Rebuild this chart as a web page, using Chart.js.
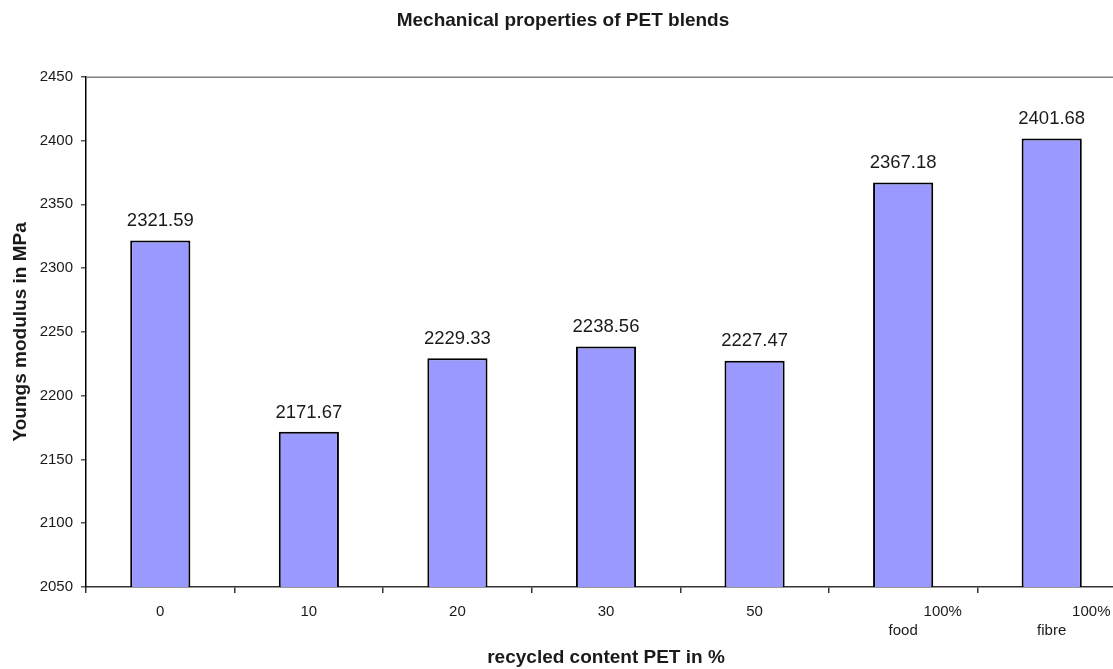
<!DOCTYPE html>
<html>
<head>
<meta charset="utf-8">
<script src="https://cdn.jsdelivr.net/npm/chart.js@4/dist/chart.umd.min.js"></script>
<style>
  html, body { margin: 0; padding: 0; background: #fff; overflow: hidden; }
  #wrap { width: 1126px; height: 669px; position: relative; }
</style>
</head>
<body>
<div id="wrap"><canvas id="c"></canvas></div>
<script>
// Young's modulus of PET blends by recycled content
const categories = ['0', '10', '20', '30', '50', ['                   100%', 'food'], ['                   100%', 'fibre']];
const modulus = [2321.59, 2171.67, 2229.33, 2238.56, 2227.47, 2367.18, 2401.68];
const yMin = 2050, yMax = 2450, yStep = 50;

const FONT = '"Liberation Sans", Arial, sans-serif';
const INK = '#1a1a1a';

// value labels above each bar and a grey frame line along the top of the plot
const extras = {
  id: 'extras',
  afterDatasetsDraw(chart) {
    const ctx = chart.ctx;
    const area = chart.chartArea;
    ctx.save();
    ctx.strokeStyle = '#808080';
    ctx.lineWidth = 1.5;
    ctx.beginPath();
    ctx.moveTo(area.left, area.top + 0.5);
    ctx.lineTo(area.right, area.top + 0.5);
    ctx.stroke();

    ctx.fillStyle = INK;
    ctx.font = '18.5px ' + FONT;
    ctx.textAlign = 'center';
    ctx.textBaseline = 'bottom';
    const meta = chart.getDatasetMeta(0);
    meta.data.forEach((bar, i) => {
      ctx.fillText(modulus[i].toFixed(2), bar.x, bar.y - 10);
    });
    ctx.restore();
  }
};

new Chart(document.getElementById('c'), {
  type: 'bar',
  data: {
    labels: categories,
    datasets: [{
      data: modulus,
      backgroundColor: '#9999FF',
      borderColor: '#000000',
      borderWidth: 2,
      barPercentage: 0.405,
      categoryPercentage: 1.0
    }]
  },
  options: {
    responsive: true,
    maintainAspectRatio: false,
    animation: false,
    layout: { padding: { left: 0, right: 0, top: 0, bottom: 0 } },
    plugins: {
      legend: { display: false },
      tooltip: { enabled: false },
      title: {
        display: true,
        text: 'Mechanical properties of PET blends',
        color: INK,
        font: { family: FONT, size: 19, weight: 'bold' },
        padding: { top: 9, bottom: 45 }
      }
    },
    scales: {
      x: {
        offset: true,
        grid: {
          offset: true,
          drawOnChartArea: false,
          drawTicks: true,
          tickLength: 6,
          color: '#333333',
          lineWidth: 1.5
        },
        border: { display: true, color: '#333333', width: 1.5 },
        ticks: {
          color: INK,
          font: { family: FONT, size: 15, lineHeight: 1.27 },
          padding: 9,
          maxRotation: 0,
          autoSkip: false
        },
        title: {
          display: true,
          text: 'recycled content PET in %',
          color: INK,
          font: { family: FONT, size: 19, weight: 'bold' },
          padding: { top: 0, bottom: 0 }
        },
        afterFit(scale) { scale.height = 82; }
      },
      y: {
        min: yMin,
        max: yMax,
        grid: {
          drawOnChartArea: false,
          drawTicks: true,
          tickLength: 5,
          color: '#555555',
          lineWidth: 1.5
        },
        border: { display: true, color: '#000000', width: 1.5 },
        ticks: {
          stepSize: yStep,
          color: INK,
          font: { family: FONT, size: 15 },
          padding: 8,
          callback: (v) => String(v)
        },
        title: {
          display: true,
          text: 'Youngs modulus in MPa',
          color: INK,
          font: { family: FONT, size: 19, weight: 'bold' },
          padding: { top: 9, bottom: 0 }
        },
        afterFit(scale) { scale.width = 86; }
      }
    }
  },
  plugins: [extras]
});
</script>
</body>
</html>
